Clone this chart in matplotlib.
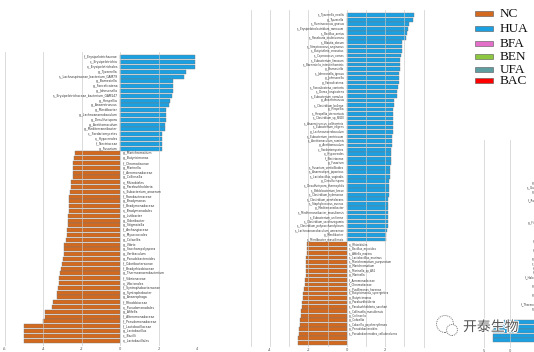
import matplotlib
matplotlib.use('Agg')
import matplotlib.pyplot as plt
from matplotlib.patches import Rectangle, Ellipse
import matplotlib.patheffects as pe

# ---------------- data ----------------
p1_labels = [
    'f__Erysipelotrichaceae', 'c__Erysipelotrichia', 'o__Erysipelotrichales', 'g__Tyzzerella',
    's__Lachnospiraceae_bacterium_GAM79', 'g__Barnesiella', 'g__Faecalicatena', 'g__Johnsonella',
    's__Erysipelotrichaceae_bacterium_GAM147', 'g__Hespellia', 'g__Anaerotruncus', 'g__Merdibacter',
    'g__Lachnoanaerobaculum', 'g__Desulfurispora', 'g__Acetitomaculum', 'g__Mediterraneibacter',
    'c__Sordariomycetes', 'o__Hypocreales', 'f__Nectriaceae', 'g__Fusarium',
    'g__Marichromatium', 'g__Butyricimonas', 'f__Chromatiaceae', 'g__Marinella',
    'f__Aeromonadaceae', 'g__Collinsella', 'o__Rhizobiales', 'g__Paraburkholderia',
    's__Eubacterium_anaerum', 'f__Rarobacteraceae', 'g__Bradymonas', 'f__Bradymonadaceae',
    'o__Bradymonadales', 'g__Lutibacter', 'g__Odoribacter', 'g__Stigmatella',
    'f__Archangiaceae', 'o__Myxococcales', 'g__Colwellia', 'g__Vibrio',
    'g__Saccharopolyspora', 'g__Varibaculum', 'g__Pseudobacteroides', 'f__Odoribacteraceae',
    'f__Bradyrhizobiaceae', 'g__Thermoanaerobacterium', 'f__Vibrionaceae', 'o__Vibrionales',
    'f__Syntrophobacteraceae', 'g__Syntrophobacter', 'g__Anaerophaga', 'f__Rhodobiaceae',
    'o__Pseudomonadales', 'g__Afifella', 'f__Alteromonadaceae', 'f__Pseudomonadaceae',
    'f__Lactobacillaceae', 'g__Lactobacillus', 'c__Bacilli', 'o__Lactobacillales',
]
p1_values = [
    3.9, 3.9, 3.9, 3.45, 3.3, 2.75, 2.75, 2.73, 2.7, 2.57, 2.53, 2.4, 2.38, 2.36, 2.34, 2.33,
    2.2, 2.18, 2.18, 2.18,
    -2.35, -2.4, -2.45, -2.48, -2.47, -2.48, -2.55, -2.57, -2.64, -2.65, -2.66, -2.67,
    -2.68, -2.7, -2.72, -2.74, -2.75, -2.77, -2.8, -2.93, -2.94, -2.95, -2.97, -3.04,
    -3.1, -3.12, -3.2, -3.2, -3.25, -3.27, -3.3, -3.52, -3.56, -3.9, -3.9, -4.03,
    -5.0, -5.0, -5.0, -5.0,
]
p1_ticks = [-6, -4, -2, 0, 2, 4]

p2_labels = [
    's__Tyzzerella_nexilis', 'g__Tyzzerella', 's__Ruminococcus_gnavus', 's__Erysipelatoclostridium_ramosum',
    's__Bacillus_aerius', 's__Roseburia_inulinivorans', 's__Blautia_obeum', 's__Streptococcus_anginosus',
    's__Butyrivibrio_crossotus', 's__Coprococcus_comes', 's__Eubacterium_limosum', 's__Barnesiella_intestinihominis',
    'g__Barnesiella', 's__Johnsonella_ignava', 'g__Johnsonella', 'g__Faecalicatena',
    's__Faecalicatena_contorta', 's__Dorea_longicatena', 's__Eubacterium_ramulus', 'g__Anaerotruncus',
    's__Clostridium_bolteae', 'g__Hespellia', 's__Hespellia_stercorisuis', 's__Clostridium_sp_SN20',
    's__Anaerotruncus_colihominis', 's__Eubacterium_eligens', 'g__Lachnoanaerobaculum', 's__Eubacterium_ventriosum',
    's__Acetitomaculum_ruminis', 'g__Acetitomaculum', 'c__Sordariomycetes', 'o__Hypocreales',
    'f__Nectriaceae', 'g__Fusarium', 's__Fusarium_verticillioides', 's__Anaerostipes_japonicus',
    's__Lactobacillus_vaginalis', 'g__Desulfurispora', 's__Desulfurispora_thermophila', 's__Bifidobacterium_breve',
    's__Clostridium_hylemonae', 's__Clostridium_aerotolerans', 's__Staphylococcus_aureus', 'g__Mediterraneibacter',
    's__Mediterraneibacter_massiliensis', 's__Eubacterium_uniforme', 's__Clostridium_saccharogumia',
    's__Clostridium_polysaccharolyticum', 's__Lachnoanaerobaculum_umeaense', 'g__Merdibacter',
    's__Merdibacter_massiliensis',
    'o__Rhizobiales', 's__Bacillus_mycoides', 's__Afifella_marina', 's__Lactobacillus_murinus',
    's__Marichromatium_purpuratum', 'g__Marichromatium', 's__Marinella_sp_AS1', 'g__Marinella',
    'f__Aeromonadaceae', 'f__Chromatiaceae', 's__Pusillimonas_harenae', 's__Butyricimonas_synergistica',
    'g__Butyricimonas', 'g__Paraburkholderia', 's__Paraburkholderia_sacchari', 's__Collinsella_massiliensis',
    'g__Collinsella', 'g__Colwellia', 's__Colwellia_psychrerythraea', 'g__Pseudobacteroides',
    's__Pseudobacteroides_cellulosolvens', '', '',
]
p2_values = [
    3.5, 3.44, 3.26, 3.21, 3.13, 3.07, 2.9, 2.9, 2.86, 2.83, 2.8, 2.78, 2.78, 2.74, 2.74, 2.73,
    2.66, 2.64, 2.6, 2.47, 2.45, 2.43, 2.43, 2.41, 2.41, 2.4, 2.4, 2.38, 2.38, 2.36, 2.33, 2.29,
    2.29, 2.29, 2.27, 2.26, 2.26, 2.22, 2.22, 2.2, 2.19, 2.17, 2.17, 2.15, 2.15, 2.14, 2.14,
    2.14, 2.12, 2.03, 2.03,
    -2.05, -2.05, -2.07, -2.1, -2.12, -2.12, -2.14, -2.14, -2.15, -2.15, -2.2, -2.26,
    -2.29, -2.33, -2.34, -2.36, -2.38, -2.43, -2.45, -2.48, -2.5, -2.52, -2.55,
]
p2_grid = [-5, -4, -3, -2, -1, 0, 1, 2, 3]
p2_ticklabels = ['', '-4', '', '-2', '', '0', '', '2', '']

# third (partly visible) panel: labels of bars lying beyond the right edge, and a group of bars
p3_labels = ['g_', 's__Gu', 'g_', '', 'f__Ra', '', '', '', '', 'g__Fi', '', '', '', 'f_', '', 'f_', '',
             'g_', 'c_', 'f_', 'f_', 'f__Halo', '', 'g_', '', 'g_', '', 'f__Thermo', 'g_',
             '', '', '', '', '', '', '']
p3_values = [0] * 31 + [-1.25, -1.62, -1.65, -1.65, -1.65]
p3_ticks = [-2, -1]
p3_ticklabels = ['5', '0']

legend_groups = ['NC', 'HUA', 'BFA', 'BEN', 'UFA', 'BAC']
legend_colors = ['#D2691E', '#1BA1E2', '#E46FC8', '#8DC63F', '#5F9EA0', '#FF0000']

C_NEG = '#D2691E'
C_POS = '#1BA1E2'

# ---------------- figure ----------------
W, H = 534, 352
fig = plt.figure(figsize=(W / 100, H / 100), dpi=100)
fig.patch.set_facecolor('white')


def px_axes(x0, y0, x1, y1):
    return fig.add_axes([x0 / W, 1 - y1 / H, (x1 - x0) / W, (y1 - y0) / H])


def style(ax):
    for s in ax.spines.values():
        s.set_visible(False)
    ax.set_yticks([])
    ax.tick_params(axis='x', length=0, labelsize=2.6, colors='#555555', pad=1)
    ax.set_facecolor('none')
    ax.set_axisbelow(False)


def lefse(ax, labels, values, fs, off):
    n = len(values)
    cols = [C_POS if v > 0 else C_NEG for v in values]
    ax.barh(range(n), values, height=0.82, color=cols, edgecolor='#7a7a7a', linewidth=0.3, zorder=2)
    for i, (lab, v) in enumerate(zip(labels, values)):
        if not lab:
            continue
        if v > 0:
            ax.text(-off, i, lab, ha='right', va='center', fontsize=fs, color='#333333', zorder=4)
        else:
            ax.text(off, i, lab, ha='left', va='center', fontsize=fs, color='#333333', zorder=4)


GRID = dict(color='#c8c8c8', linewidth=0.6, alpha=0.75, zorder=3)

# panel 1
ax1 = px_axes(5, 52, 197, 346)
style(ax1)
lefse(ax1, p1_labels, p1_values, 2.2, 0.12)
ax1.set_xlim(-6, 4)
n1 = len(p1_values)
ax1.set_ylim(n1 - 0.5 + 0.62, -0.5 - 0.62)
ax1.set_xticks(p1_ticks)
ax1.set_xticklabels([str(t) for t in p1_ticks])
for t in p1_ticks:
    ax1.axvline(t, **GRID)

# panel 2
ax2 = px_axes(250.7, 10, 419.7, 347)
style(ax2)
lefse(ax2, p2_labels, p2_values, 1.9, 0.12)
ax2.set_xlim(-5, 3.8)
n2 = len(p2_values)
ax2.set_ylim(n2 - 0.5 + 0.45, -0.5 - 0.67)
ax2.set_xticks(p2_grid)
ax2.set_xticklabels(p2_ticklabels)
for t in p2_grid:
    ax2.axvline(t, **GRID)

# panel 3 (cut by the right border)
ax3 = px_axes(423, 10, 560, 348)
style(ax3)
n3 = len(p3_values)
ax3.barh(range(n3), p3_values, height=0.85, color=C_POS, edgecolor='#7a7a7a', linewidth=0.3, zorder=2)
for i, lab in enumerate(p3_labels):
    if lab:
        ax3.text(-0.05, i, lab, ha='right', va='center', fontsize=1.9, color='#333333', zorder=4)
ax3.set_xlim(-4.35, 0.92)
ax3.set_ylim(36.7, -38.4)
ax3.axvline(-4.33, **GRID)
for t in p3_ticks:
    ax3.axvline(t, ymin=0, ymax=0.615, **GRID)
ax3.set_xticks(p3_ticks)
ax3.set_xticklabels(p3_ticklabels)

# legend
rows_y = [13.3, 28.3, 43.3, 56.7, 69.3, 80.5]
for g, c, yy in zip(legend_groups, legend_colors, rows_y):
    fig.patches.append(Rectangle(((475) / W, 1 - (yy + 2.7) / H), 18 / W, 5.4 / H,
                                 transform=fig.transFigure, facecolor=c, edgecolor='#555555',
                                 linewidth=0.4, zorder=5))
    fig.text(500 / W, 1 - (yy + 0.3) / H, g, fontsize=9.5, family='Liberation Serif',
             ha='left', va='center', color='#111111')

# watermark
for (cx, cy, r) in [(445, 324, 8.5), (452, 330, 5.5)]:
    fig.patches.append(Ellipse((cx / W, 1 - cy / H), 2 * r / W, 2 * r / H, transform=fig.transFigure,
                               facecolor='white', edgecolor='#777777', linewidth=0.7,
                               linestyle=(0, (1, 1)), zorder=6))
fig.text(463 / W, 1 - 327 / H, '开泰生物', fontsize=10, color='#555555',
         family=['Noto Sans CJK SC', 'DejaVu Sans'], ha='left', va='center', zorder=7,
         path_effects=[pe.withStroke(linewidth=1.5, foreground='white')])

fig.savefig('out.png', dpi=100, facecolor='white')
